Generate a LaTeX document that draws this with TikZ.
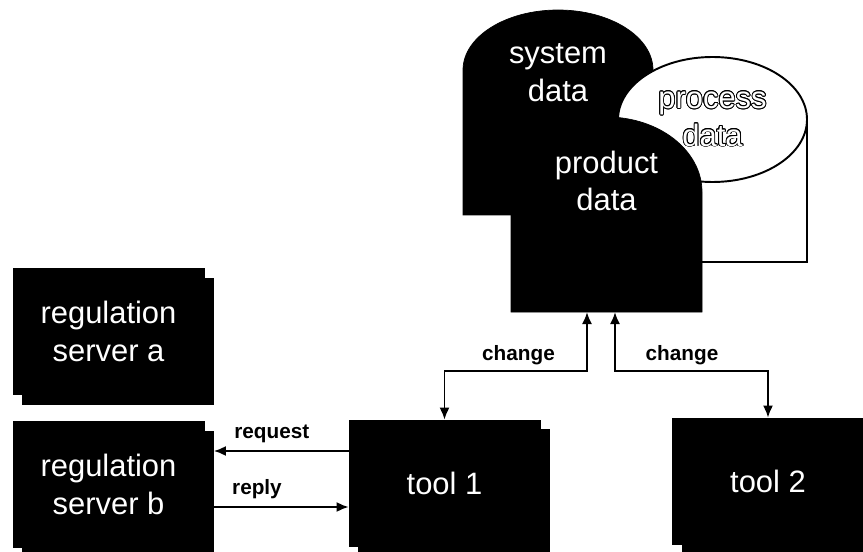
\documentclass[tikz,border=0pt]{standalone}
\usepackage{fontspec}
\setmainfont{Liberation Sans}
\usepackage[copies]{contour}
\contourlength{0.5pt}
\usetikzlibrary{arrows.meta,shadows}

\tikzset{
  unit/.style={fill=black, draw=black, text=white, align=center,
    minimum width=3.82cm, minimum height=2.52cm,
    font=\fontsize{17.6}{21.5}\selectfont,
    copy shadow={shadow xshift=1.9mm, shadow yshift=-1.9mm, fill=black, draw=black}},
  store/.style={text=white, align=center, font=\fontsize{17.6}{21.5}\selectfont},
  lbl/.style={font=\fontsize{11.8}{14}\selectfont\bfseries, inner sep=1pt},
  flow/.style={-{Latex[length=2.4mm,width=2mm]}, line width=1.1pt},
  dflow/.style={{Latex[length=2.4mm,width=2mm]}-{Latex[length=2.4mm,width=2mm]}, line width=1.1pt}
}

\begin{document}
\begin{tikzpicture}

\useasboundingbox (0,0) rectangle (17.26,11.02);
\clip (0,0) rectangle (17.26,11.02);

%% =============== Data stores ===============

% --- System data (back) ---
\filldraw[black] (9.26,6.72) -- (9.26,9.62) arc (180:0:1.90 and 1.20) -- (13.06,6.72) -- cycle;
\node[store] (sysdata) at (11.16,9.56) {system\\data};

% --- Process data: box with an elliptic lid ---
\filldraw[fill=white, draw=black, line width=1.1pt] (12.36,8.63) rectangle (16.14,5.78);
\filldraw[fill=white, draw=black, line width=1.1pt] (14.25,8.63) ellipse (1.89 and 1.25);
\node[store] (procdata) at (14.25,8.63) {\contour{black}{process}\\\contour{black}{data}};

% --- Product data (front) ---
\filldraw[black] (10.22,4.78) -- (10.22,7.18) arc (180:0:1.91 and 1.50) -- (14.04,4.78) -- cycle;
\node[store] (proddata) at (12.13,7.40) {product\\data};
\coordinate (prodbase) at (12.13,4.78);

%% =============== Servers and tools ===============
\node[unit] (srva)  at (2.17,4.39)  {regulation\\server a};
\node[unit] (srvb)  at (2.17,1.33)  {regulation\\server b};
\node[unit] (tool1) at (8.89,1.36)  {tool 1};
\node[unit] (tool2) at (15.36,1.40) {tool 2};

%% =============== Connections ===============

% --- change paths to product data ---
\coordinate (ch1) at ([xshift=-3.9mm]prodbase);
\coordinate (ch2) at ([xshift=1.7mm]prodbase);
\draw[dflow] (ch1) -- (ch1 |- 0,3.60) -| (tool1.north);
\draw[dflow] (ch2) -- (ch2 |- 0,3.60) -| (tool2.north);
\node[lbl] (chg1) at (10.37,3.92) {change};
\node[lbl] (chg2) at (13.64,3.92) {change};

% --- request / reply with server b ---
\coordinate (rq) at ([yshift=6.4mm]tool1.west);
\coordinate (rp) at ([yshift=-4.8mm]tool1.west);
\draw[flow] (rq) -- ([xshift=1.9mm]rq -| srvb.east)
  node[lbl, pos=0.57, above=1mm] (req) {request};
\draw[flow] ([xshift=1.9mm]rp -| srvb.east) -- (rp)
  node[lbl, pos=0.32, above=1mm] (rep) {reply};

\end{tikzpicture}
\end{document}
